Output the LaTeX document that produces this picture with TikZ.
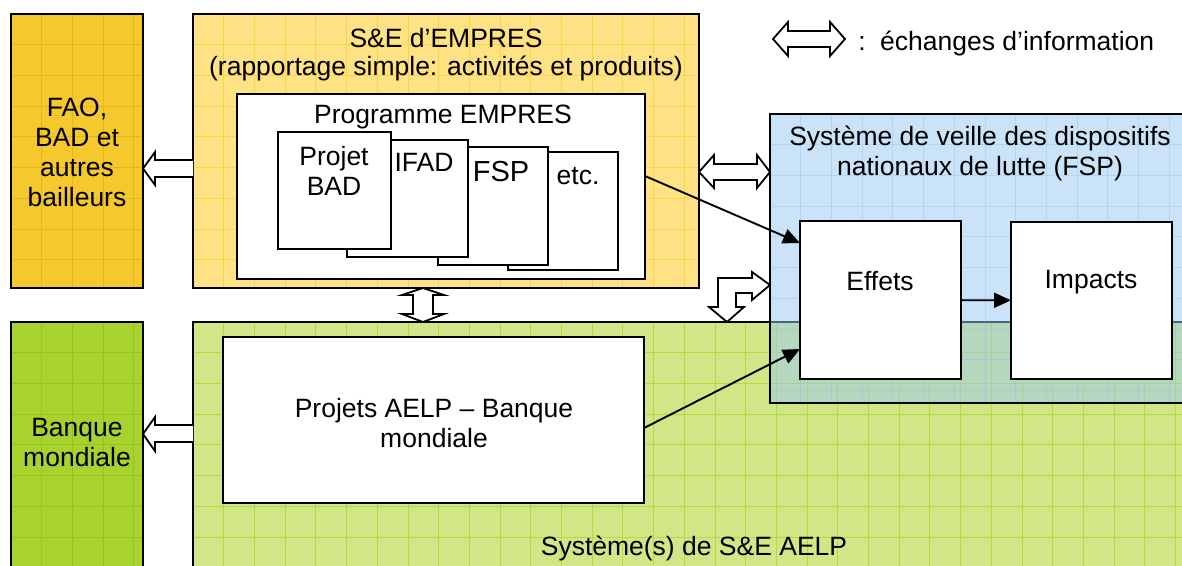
\documentclass[tikz,border=0pt]{standalone}
\usepackage{fontspec}
\setmainfont{Liberation Sans}
\usetikzlibrary{arrows.meta,calc}
\definecolor{faoY}{RGB}{245,200,45}
\definecolor{faoG}{RGB}{232,182,20}
\definecolor{seY}{RGB}{255,226,132}
\definecolor{seG}{RGB}{255,210,70}
\definecolor{bmG}{RGB}{168,210,45}
\definecolor{bmL}{RGB}{150,196,24}
\definecolor{grG}{RGB}{208,230,135}
\definecolor{grL}{RGB}{182,218,60}
\definecolor{blB}{RGB}{153,201,245}
\definecolor{blL}{RGB}{120,182,245}
\newcommand\mygrid[5]{%
  \begin{scope}
    \clip (#1,#2) rectangle (#3,#4);
    \foreach \i in {1,...,40}{
      \draw[#5] ({#1+\i*30.7},#2) -- ({#1+\i*30.7},#4);
      \draw[#5] (#1,{#2+\i*30.7}) -- (#3,{#2+\i*30.7});
    }
  \end{scope}}
\begin{document}
\begin{tikzpicture}[x=1pt,y=-1pt,
  box/.style={draw=black,line width=2pt,inner sep=0pt,outer sep=0pt},
  txt/.style={font=\fontsize{26.5}{30}\selectfont,align=center,inner sep=0pt},
  blockarrow/.style={draw=black,fill=white,line width=1.8pt,line join=miter},
  conn/.style={line width=1.9pt,-{Triangle[length=17pt,width=15pt]}},
  gl/.style={line width=0.8pt}]
\useasboundingbox (0,0) rectangle (1182,565);
\fill[white] (0,0) rectangle (1182,565);

% FAO box
\node[box,fill=faoY,minimum width=132pt,minimum height=274pt] (fao) at (77,151) {};
\mygrid{11}{14}{143}{288}{gl,faoG}
\draw[line width=2pt] (11,14) rectangle (143,288);
\node[txt] (faot) at (77,152) {FAO,\\BAD et\\autres\\bailleurs};

% S&E EMPRES box
\node[box,fill=seY,minimum width=506pt,minimum height=274pt] (se) at (446,151) {};
\mygrid{193}{14}{699}{288}{gl,seG}
\draw[line width=2pt] (193,14) rectangle (699,288);
\node[txt] (set1) at (446,38) {S\&E d’EMPRES};
\node[txt] (set2) at (446,68) {(rapportage simple: activités et produits)};

% Programme EMPRES
\node[box,fill=white,minimum width=408pt,minimum height=185pt] (prog) at (441,186.5) {};
\node[txt] (progt) at (443,117) {Programme EMPRES};
\node[box,fill=white,minimum width=110pt,minimum height=118pt] (etc) at (563,211) {};
\node[box,fill=white,minimum width=110pt,minimum height=118pt] (fsp) at (493,206) {};
\node[box,fill=white,minimum width=121pt,minimum height=117pt] (ifad) at (407.5,198.5) {};
\node[box,fill=white,minimum width=113pt,minimum height=117pt] (bad) at (334.5,190.5) {};
\node[txt] (badt) at (334,171) {Projet\\BAD};
\node[txt] (ifadt) at (424,162) {IFAD};
\node[txt,font=\fontsize{29}{32}\selectfont] (fspt) at (501,172) {FSP};
\node[txt] (etct) at (578,176) {etc.};

% Banque mondiale box
\node[box,fill=bmG,minimum width=132pt,minimum height=253pt] (bm) at (77,448.5) {};
\mygrid{11}{322}{143}{575}{gl,bmL}
\draw[line width=2pt] (11,322) rectangle (143,575);
\node[txt] (bmt) at (77,443) {Banque\\mondiale};

% Green AELP system
\node[box,fill=grG,minimum width=997pt,minimum height=253pt] (green) at (691.5,448.5) {};
\mygrid{193}{322}{1190}{575}{gl,grL}
\draw[line width=2pt] (193,322) rectangle (1190,575);
\node[txt] (greent) at (694,548) {Système(s) de S\&E AELP};

% Blue veille system (semi-transparent)
\node[box,draw=none,fill=blB,fill opacity=0.5,minimum width=420pt,minimum height=289pt] (veille) at (980,258.5) {};
\mygrid{770}{114}{1190}{403}{gl,blL,opacity=0.3}
\draw[line width=2pt] (770,114) rectangle (1190,403);
\node[txt] (veillet) at (980,153) {Système de veille des dispositifs\\nationaux de lutte (FSP)};

% Effets / Impacts
\node[box,fill=white,minimum width=161pt,minimum height=158pt] (effets) at (880.5,300) {};
\node[box,fill=white,minimum width=161pt,minimum height=157pt] (impacts) at (1091.5,300.5) {};
\node[txt] (effetst) at (880,281) {Effets};
\node[txt] (impactst) at (1091,282) {Impacts};

% Projets AELP
\node[box,fill=white,minimum width=421pt,minimum height=166pt] (aelp) at (433.5,420) {};
\node[txt] (aelpt) at (434,423) {Projets AELP – Banque\\mondiale};

% Block arrows
\draw[blockarrow] (193,160) -- (155,160) -- (155,152) -- (143,168.5) -- (155,185) -- (155,177) -- (193,177);
\draw[blockarrow] (193,425) -- (155,425) -- (155,417) -- (143,434) -- (155,451) -- (155,442) -- (193,442);
\draw[blockarrow] (423,288) -- (444,295) -- (433,295) -- (433,314) -- (444,314) -- (423,322)
  -- (402,314) -- (413,314) -- (413,295) -- (402,295) -- cycle;
\draw[blockarrow] (699,172) -- (714,155) -- (714,164) -- (757,164) -- (757,155) -- (770,172)
  -- (757,188) -- (757,180) -- (714,180) -- (714,188) -- cycle;
\draw[blockarrow] (752,272) -- (770,285) -- (752,300) -- (752,293) -- (736,293) -- (736,307)
  -- (744,307) -- (727,322) -- (709,307) -- (718,307) -- (718,278) -- (752,278) -- cycle;

% Legend
\draw[blockarrow] (773,39) -- (788,22) -- (788,31) -- (830,31) -- (830,22) -- (845,39)
  -- (830,56) -- (830,47) -- (788,47) -- (788,56) -- cycle;
\node[txt] (colon) at (862,43) {:};
\node[txt,anchor=west] (legt) at (880,43) {échanges d’information};

% Connectors
\draw[conn] (prog.east |- 0,176) -- (effets.west |- 0,243);
\draw[conn] (aelp.east |- 0,428) -- (effets.west |- 0,349);
\draw[conn] (effets) -- (impacts);
\end{tikzpicture}
\end{document}
